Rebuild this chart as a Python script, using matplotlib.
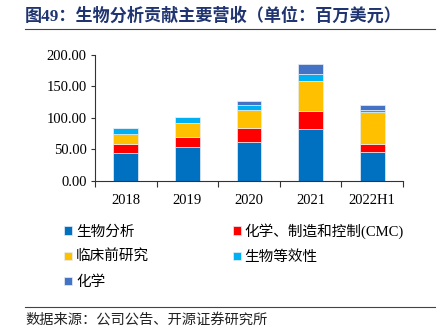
import matplotlib
matplotlib.use('Agg')
import matplotlib.pyplot as plt
from matplotlib.lines import Line2D
import numpy as np

plt.rcParams['font.family'] = ['Liberation Serif', 'Noto Sans CJK SC']

years = ['2018', '2019', '2020', '2021', '2022H1']
series_names = ['生物分析', '化学、制造和控制(CMC)', '临床前研究', '生物等效性', '化学']
bioanalysis = [43.8, 53.8, 62.3, 82.8, 46.4]
cmc = [14.2, 15.9, 22.1, 28.5, 12.7]
preclinical = [15.9, 22.6, 28.5, 47.5, 49.6]
bioequivalence = [9.5, 8.5, 7.4, 10.6, 3.7]
chemistry = [0.0, 0.0, 6.3, 16.4, 7.4]
colors = ['#0070C0', '#FF0000', '#FFC000', '#00B0F0', '#4472C4']

fig = plt.figure(figsize=(4.43, 3.36), dpi=100)
ax = fig.add_axes([95 / 443, 155 / 336, 308 / 443, 126.3 / 336])

x = np.arange(len(years))
bottom = np.zeros(len(years))
handles = []
for name, vals, c in zip(series_names,
                         [bioanalysis, cmc, preclinical, bioequivalence, chemistry],
                         colors):
    b = ax.bar(x, vals, width=0.4, bottom=bottom, color=c,
               edgecolor='#E8EEF6', linewidth=0.5, label=name)
    bottom += np.array(vals)
    handles.append(b)

ax.set_xlim(-0.5, len(years) - 0.5)
ax.set_ylim(0, 200)
ax.set_yticks(np.arange(0, 201, 50))
ax.set_yticklabels([f'{v:.2f}' for v in np.arange(0, 201, 50)], fontsize=10.5)
ax.set_xticks(x)
ax.set_xticklabels(years, fontsize=10.5)
ax.tick_params(axis='x', length=0, pad=9)
ax.set_xticks(np.arange(-0.5, len(years)), minor=True)
ax.tick_params(axis='x', which='minor', length=4, width=0.8, color='#333333')
ax.tick_params(axis='y', length=3, width=0.8, color='#333333', pad=3)
for s in ['top', 'right']:
    ax.spines[s].set_visible(False)
for s in ['left', 'bottom']:
    ax.spines[s].set_color('#333333')
    ax.spines[s].set_linewidth(0.8)

# title and rules
fig.text(25 / 443, 1 - 16 / 336, '图49：生物分析贡献主要营收（单位：百万美元）',
         fontsize=12.3, fontweight='bold', color='#1F3470', va='center', ha='left')
fig.add_artist(Line2D([25 / 443, 435 / 443], [1 - 29 / 336, 1 - 29 / 336],
                      color='#444444', linewidth=0.8))
fig.add_artist(Line2D([25 / 443, 435 / 443], [1 - 307 / 336, 1 - 307 / 336],
                      color='#444444', linewidth=0.8))
fig.text(25 / 443, 1 - 320 / 336, '数据来源：公司公告、开源证券研究所',
         fontsize=10.3, color='#222222', va='center', ha='left')

order = [0, 2, 4, 1, 3]
leg = fig.legend([handles[i] for i in order], [series_names[i] for i in order],
                 ncol=2, loc='upper left', bbox_to_anchor=(57 / 443, 1 - 216 / 336),
                 frameon=False, fontsize=10.5, handlelength=0.55, handleheight=0.55,
                 handletextpad=0.25, columnspacing=5.75, labelspacing=0.78,
                 borderpad=0)

fig.savefig('out.png', dpi=100)
